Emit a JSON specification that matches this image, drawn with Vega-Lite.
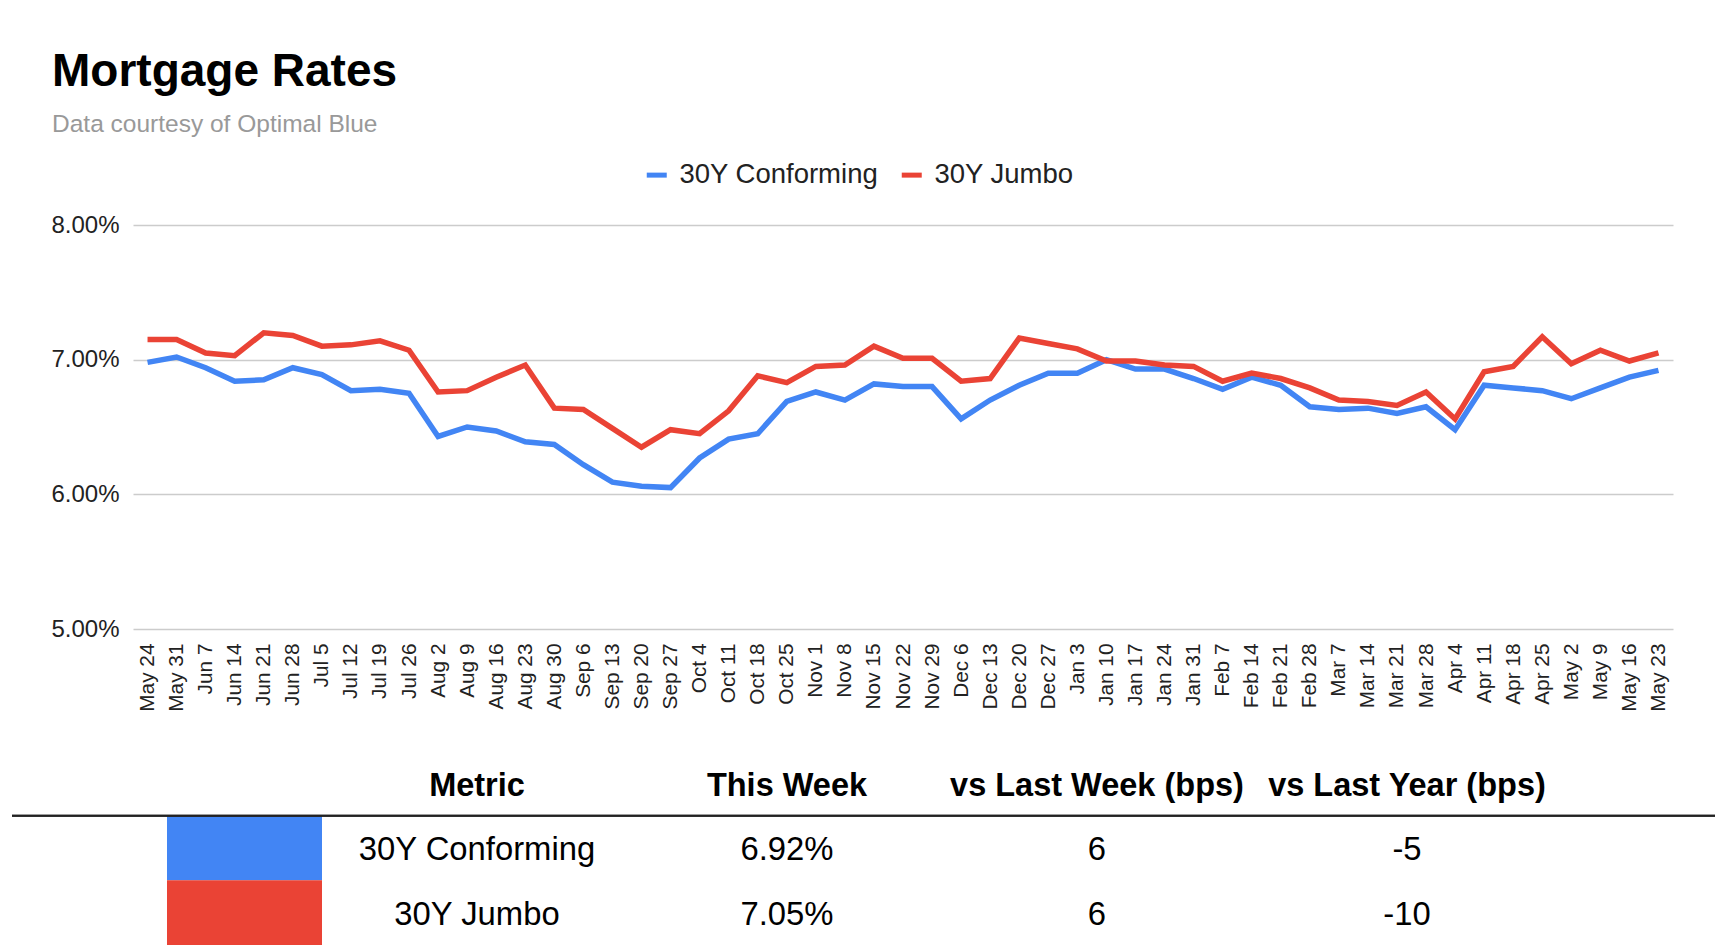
{
  "$schema": "https://vega.github.io/schema/vega-lite/v6.json",
  "background": "white",
  "padding": {"left": 11, "top": 48, "right": 0, "bottom": 0},
  "columns": 1,
  "align": "none",
  "spacing": 39,
  "resolve": {"scale": {"color": "independent"}, "legend": {"color": "independent"}},
  "config": {
    "view": {"stroke": null},
    "font": "Liberation Sans",
    "text": {"font": "Liberation Sans"}
  },
  "datasets": {
    "rates": [
      {"week": "May 24", "30Y Conforming": 6.98, "30Y Jumbo": 7.15},
      {"week": "May 31", "30Y Conforming": 7.02, "30Y Jumbo": 7.15},
      {"week": "Jun 7", "30Y Conforming": 6.94, "30Y Jumbo": 7.05},
      {"week": "Jun 14", "30Y Conforming": 6.84, "30Y Jumbo": 7.03},
      {"week": "Jun 21", "30Y Conforming": 6.85, "30Y Jumbo": 7.2},
      {"week": "Jun 28", "30Y Conforming": 6.94, "30Y Jumbo": 7.18},
      {"week": "Jul 5", "30Y Conforming": 6.89, "30Y Jumbo": 7.1},
      {"week": "Jul 12", "30Y Conforming": 6.77, "30Y Jumbo": 7.11},
      {"week": "Jul 19", "30Y Conforming": 6.78, "30Y Jumbo": 7.14},
      {"week": "Jul 26", "30Y Conforming": 6.75, "30Y Jumbo": 7.07},
      {"week": "Aug 2", "30Y Conforming": 6.43, "30Y Jumbo": 6.76},
      {"week": "Aug 9", "30Y Conforming": 6.5, "30Y Jumbo": 6.77},
      {"week": "Aug 16", "30Y Conforming": 6.47, "30Y Jumbo": 6.87},
      {"week": "Aug 23", "30Y Conforming": 6.39, "30Y Jumbo": 6.96},
      {"week": "Aug 30", "30Y Conforming": 6.37, "30Y Jumbo": 6.64},
      {"week": "Sep 6", "30Y Conforming": 6.22, "30Y Jumbo": 6.63},
      {"week": "Sep 13", "30Y Conforming": 6.09, "30Y Jumbo": 6.49},
      {"week": "Sep 20", "30Y Conforming": 6.06, "30Y Jumbo": 6.35},
      {"week": "Sep 27", "30Y Conforming": 6.05, "30Y Jumbo": 6.48},
      {"week": "Oct 4", "30Y Conforming": 6.27, "30Y Jumbo": 6.45},
      {"week": "Oct 11", "30Y Conforming": 6.41, "30Y Jumbo": 6.62},
      {"week": "Oct 18", "30Y Conforming": 6.45, "30Y Jumbo": 6.88},
      {"week": "Oct 25", "30Y Conforming": 6.69, "30Y Jumbo": 6.83},
      {"week": "Nov 1", "30Y Conforming": 6.76, "30Y Jumbo": 6.95},
      {"week": "Nov 8", "30Y Conforming": 6.7, "30Y Jumbo": 6.96},
      {"week": "Nov 15", "30Y Conforming": 6.82, "30Y Jumbo": 7.1},
      {"week": "Nov 22", "30Y Conforming": 6.8, "30Y Jumbo": 7.01},
      {"week": "Nov 29", "30Y Conforming": 6.8, "30Y Jumbo": 7.01},
      {"week": "Dec 6", "30Y Conforming": 6.56, "30Y Jumbo": 6.84},
      {"week": "Dec 13", "30Y Conforming": 6.7, "30Y Jumbo": 6.86},
      {"week": "Dec 20", "30Y Conforming": 6.81, "30Y Jumbo": 7.16},
      {"week": "Dec 27", "30Y Conforming": 6.9, "30Y Jumbo": 7.12},
      {"week": "Jan 3", "30Y Conforming": 6.9, "30Y Jumbo": 7.08},
      {"week": "Jan 10", "30Y Conforming": 7.0, "30Y Jumbo": 6.99},
      {"week": "Jan 17", "30Y Conforming": 6.93, "30Y Jumbo": 6.99},
      {"week": "Jan 24", "30Y Conforming": 6.93, "30Y Jumbo": 6.96},
      {"week": "Jan 31", "30Y Conforming": 6.86, "30Y Jumbo": 6.95},
      {"week": "Feb 7", "30Y Conforming": 6.78, "30Y Jumbo": 6.84},
      {"week": "Feb 14", "30Y Conforming": 6.87, "30Y Jumbo": 6.9},
      {"week": "Feb 21", "30Y Conforming": 6.81, "30Y Jumbo": 6.86},
      {"week": "Feb 28", "30Y Conforming": 6.65, "30Y Jumbo": 6.79},
      {"week": "Mar 7", "30Y Conforming": 6.63, "30Y Jumbo": 6.7},
      {"week": "Mar 14", "30Y Conforming": 6.64, "30Y Jumbo": 6.69},
      {"week": "Mar 21", "30Y Conforming": 6.6, "30Y Jumbo": 6.66},
      {"week": "Mar 28", "30Y Conforming": 6.65, "30Y Jumbo": 6.76},
      {"week": "Apr 4", "30Y Conforming": 6.48, "30Y Jumbo": 6.56},
      {"week": "Apr 11", "30Y Conforming": 6.81, "30Y Jumbo": 6.91},
      {"week": "Apr 18", "30Y Conforming": 6.79, "30Y Jumbo": 6.95},
      {"week": "Apr 25", "30Y Conforming": 6.77, "30Y Jumbo": 7.17},
      {"week": "May 2", "30Y Conforming": 6.71, "30Y Jumbo": 6.97},
      {"week": "May 9", "30Y Conforming": 6.79, "30Y Jumbo": 7.07},
      {"week": "May 16", "30Y Conforming": 6.87, "30Y Jumbo": 6.99},
      {"week": "May 23", "30Y Conforming": 6.92, "30Y Jumbo": 7.05}
    ],
    "table": [
      {"Metric": "30Y Conforming", "This Week": "6.92%", "vs Last Week (bps)": "6", "vs Last Year (bps)": "-5"},
      {"Metric": "30Y Jumbo", "This Week": "7.05%", "vs Last Week (bps)": "6", "vs Last Year (bps)": "-10"}
    ]
  },
  "concat": [
    {
      "width": 1540,
      "height": 404,
      "title": {
        "text": "Mortgage Rates",
        "subtitle": "Data courtesy of Optimal Blue",
        "anchor": "start",
        "frame": "bounds",
        "dx": 40,
        "baseline": "top",
        "fontSize": 46,
        "fontWeight": "bold",
        "color": "#000000",
        "font": "Liberation Sans",
        "subtitleFont": "Liberation Sans",
        "subtitleFontSize": 24.5,
        "subtitleColor": "#999999",
        "subtitlePadding": 17,
        "offset": 24
      },
      "data": {"name": "rates"},
      "transform": [{"fold": ["30Y Conforming", "30Y Jumbo"], "as": ["series", "rate"]}],
      "mark": {"type": "line", "strokeWidth": 5.5},
      "encoding": {
        "x": {
          "field": "week",
          "type": "ordinal",
          "sort": ["May 24","May 31","Jun 7","Jun 14","Jun 21","Jun 28","Jul 5","Jul 12","Jul 19","Jul 26","Aug 2","Aug 9","Aug 16","Aug 23","Aug 30","Sep 6","Sep 13","Sep 20","Sep 27","Oct 4","Oct 11","Oct 18","Oct 25","Nov 1","Nov 8","Nov 15","Nov 22","Nov 29","Dec 6","Dec 13","Dec 20","Dec 27","Jan 3","Jan 10","Jan 17","Jan 24","Jan 31","Feb 7","Feb 14","Feb 21","Feb 28","Mar 7","Mar 14","Mar 21","Mar 28","Apr 4","Apr 11","Apr 18","Apr 25","May 2","May 9","May 16","May 23"],
          "scale": {"type": "point", "padding": 0.5},
          "axis": {"title": null, "labelAngle": -90, "labelFontSize": 20.8, "labelPadding": 14, "ticks": false, "domain": false, "grid": false, "labelColor": "#222222", "labelOverlap": false, "labelFont": "Liberation Sans"}
        },
        "y": {
          "field": "rate",
          "type": "quantitative",
          "scale": {"domain": [5, 8], "nice": false, "zero": false},
          "axis": {"title": null, "values": [5, 6, 7, 8], "labelExpr": "format(datum.value, '.2f') + '%'", "labelFontSize": 24, "labelPadding": 14, "ticks": false, "domain": false, "grid": true, "gridColor": "#cccccc", "gridWidth": 1.5, "minExtent": 121, "labelColor": "#222222", "labelFont": "Liberation Sans"}
        },
        "color": {
          "field": "series",
          "type": "nominal",
          "scale": {"domain": ["30Y Conforming", "30Y Jumbo"], "range": ["#4285F4", "#EA4335"]},
          "legend": {"title": null, "orient": "none", "legendX": 510, "legendY": -64, "direction": "horizontal", "symbolType": "stroke", "symbolStrokeWidth": 5, "symbolSize": 400, "labelFontSize": 27.5, "labelOffset": 9, "labelLimit": 600, "columnPadding": 12, "padding": 0, "labelColor": "#222222", "labelFont": "Liberation Sans"}
        }
      }
    },
    {
      "width": 1582,
      "height": 194,
      "data": {"name": "table"},
      "layer": [
        {
          "mark": {"type": "rect"},
          "encoding": {
            "x": {"datum": "swatch", "type": "nominal", "bandPosition": 0.5, "axis": null,
                  "scale": {"type": "band", "domain": ["swatch", "Metric", "This Week", "vs Last Week (bps)", "vs Last Year (bps)"], "range": [-121, 1582], "paddingInner": 0, "paddingOuter": 0.2468, "align": 0}},
            "x2": {"datum": "swatch", "bandPosition": 1},
            "y": {"field": "Metric", "type": "nominal", "axis": null,
                  "scale": {"type": "band", "domain": ["header", "30Y Conforming", "30Y Jumbo"], "paddingInner": 0, "paddingOuter": 0}},
            "color": {"field": "Metric", "type": "nominal", "legend": null,
                      "scale": {"domain": ["30Y Conforming", "30Y Jumbo"], "range": ["#4285F4", "#EA4335"]}}
          }
        },
        {
          "mark": {"type": "rule", "color": "#222222", "strokeWidth": 2},
          "encoding": {
            "x": {"datum": "swatch", "type": "nominal", "bandPosition": 0},
            "x2": {"value": "width"},
            "y": {"datum": "30Y Conforming", "type": "nominal", "bandPosition": 0}
          }
        },
        {
          "transform": [{"fold": ["Metric", "This Week", "vs Last Week (bps)", "vs Last Year (bps)"], "as": ["column", "cell"]}],
          "mark": {"type": "text", "fontSize": 32.8, "color": "#000000", "font": "Liberation Sans", "dy": 2},
          "encoding": {
            "x": {"field": "column", "type": "nominal"},
            "y": {"field": "Metric", "type": "nominal"},
            "text": {"field": "cell"}
          }
        },
        {
          "transform": [
            {"fold": ["Metric", "This Week", "vs Last Week (bps)", "vs Last Year (bps)"], "as": ["column", "cell"]},
            {"aggregate": [{"op": "count", "as": "n"}], "groupby": ["column"]}
          ],
          "mark": {"type": "text", "fontSize": 32.5, "fontWeight": "bold", "color": "#000000", "font": "Liberation Sans", "dy": 3},
          "encoding": {
            "x": {"field": "column", "type": "nominal"},
            "y": {"datum": "header", "type": "nominal"},
            "text": {"field": "column"}
          }
        }
      ]
    }
  ]
}
